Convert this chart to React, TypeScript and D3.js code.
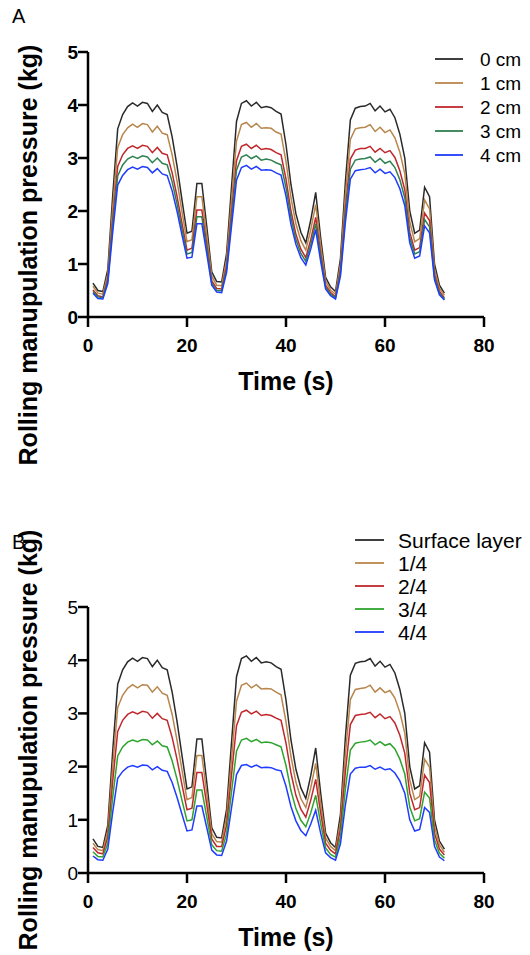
import React from "react";
import * as d3 from "d3";

// time in seconds, one reading per second
const time = d3.range(1, 73);

const yTicks = [0, 1, 2, 3, 4, 5];
const xTicks = [0, 20, 40, 60, 80];

// Panel A: depth below surface
const depthLabels = ["0 cm", "1 cm", "2 cm", "3 cm", "4 cm"];
// Panel B: layer
const layerLabels = ["Surface layer", "1/4", "2/4", "3/4", "4/4"];

const cm0 = [
  0.64, 0.5, 0.48, 0.9, 2.3, 3.55, 3.82, 3.97, 4.04, 3.98, 4.05, 4.03, 3.88, 4.0, 3.86, 3.82, 3.4, 2.84,
  2.2, 1.58, 1.62, 2.52, 2.52, 1.7, 0.85, 0.67, 0.66, 1.2, 2.46, 3.69, 4.03, 4.08, 3.98, 4.05, 3.95, 3.97,
  3.95, 3.88, 3.83, 3.25, 2.5, 1.95, 1.6, 1.4, 1.83, 2.35, 1.5, 0.75, 0.57, 0.48, 1.1, 2.55, 3.72, 3.94,
  3.97, 3.98, 4.03, 3.89, 3.98, 3.87, 3.92, 3.76, 3.45, 3.0, 2.0, 1.58, 1.64, 2.45, 2.27, 1.0, 0.6, 0.45,
];
const cm1 = [
  0.58, 0.45, 0.43, 0.81, 2.07, 3.2, 3.44, 3.57, 3.64, 3.58, 3.65, 3.63, 3.49, 3.6, 3.47, 3.44, 3.06, 2.56,
  1.98, 1.42, 1.46, 2.27, 2.27, 1.53, 0.77, 0.6, 0.59, 1.08, 2.21, 3.32, 3.63, 3.67, 3.58, 3.65, 3.56, 3.57,
  3.56, 3.49, 3.45, 2.93, 2.25, 1.76, 1.44, 1.26, 1.65, 2.12, 1.35, 0.68, 0.51, 0.43, 0.99, 2.3, 3.35, 3.55,
  3.57, 3.58, 3.63, 3.5, 3.58, 3.48, 3.53, 3.38, 3.11, 2.7, 1.8, 1.42, 1.48, 2.21, 2.04, 0.9, 0.54, 0.41,
];
const cm2 = [
  0.51, 0.4, 0.38, 0.72, 1.84, 2.84, 3.06, 3.18, 3.23, 3.18, 3.24, 3.22, 3.1, 3.2, 3.09, 3.06, 2.72, 2.27,
  1.76, 1.26, 1.3, 2.02, 2.02, 1.36, 0.68, 0.54, 0.53, 0.96, 1.97, 2.95, 3.22, 3.26, 3.18, 3.24, 3.16, 3.18,
  3.16, 3.1, 3.06, 2.6, 2.0, 1.56, 1.28, 1.12, 1.46, 1.88, 1.2, 0.6, 0.46, 0.38, 0.88, 2.04, 2.98, 3.15,
  3.18, 3.18, 3.22, 3.11, 3.18, 3.1, 3.14, 3.01, 2.76, 2.4, 1.6, 1.26, 1.31, 1.96, 1.82, 0.8, 0.48, 0.36,
];
const cm3 = [
  0.48, 0.38, 0.36, 0.68, 1.73, 2.66, 2.87, 2.98, 3.03, 2.99, 3.04, 3.02, 2.91, 3.0, 2.9, 2.87, 2.55, 2.13,
  1.65, 1.19, 1.22, 1.89, 1.89, 1.28, 0.64, 0.5, 0.5, 0.9, 1.85, 2.77, 3.02, 3.06, 2.99, 3.04, 2.96, 2.98,
  2.96, 2.91, 2.87, 2.44, 1.88, 1.46, 1.2, 1.05, 1.37, 1.76, 1.13, 0.56, 0.43, 0.36, 0.83, 1.91, 2.79, 2.96,
  2.98, 2.99, 3.02, 2.92, 2.99, 2.9, 2.94, 2.82, 2.59, 2.25, 1.5, 1.19, 1.23, 1.84, 1.7, 0.75, 0.45, 0.34,
];
const cm4 = [
  0.45, 0.35, 0.34, 0.63, 1.61, 2.49, 2.67, 2.78, 2.83, 2.79, 2.84, 2.82, 2.72, 2.8, 2.7, 2.67, 2.38, 1.99,
  1.54, 1.11, 1.13, 1.76, 1.76, 1.19, 0.6, 0.47, 0.46, 0.84, 1.72, 2.58, 2.82, 2.86, 2.79, 2.84, 2.77, 2.78,
  2.77, 2.72, 2.68, 2.28, 1.75, 1.37, 1.12, 0.98, 1.28, 1.65, 1.05, 0.53, 0.4, 0.34, 0.77, 1.79, 2.6, 2.76,
  2.78, 2.79, 2.82, 2.72, 2.79, 2.71, 2.74, 2.63, 2.42, 2.1, 1.4, 1.11, 1.15, 1.72, 1.59, 0.7, 0.42, 0.32,
];

// surface layer is the same recording as 0 cm
const surface = cm0;
const layer1 = [
  0.56, 0.44, 0.42, 0.79, 2.01, 3.11, 3.34, 3.47, 3.54, 3.48, 3.54, 3.53, 3.4, 3.5, 3.38, 3.34, 2.98, 2.49,
  1.93, 1.38, 1.42, 2.21, 2.21, 1.49, 0.74, 0.59, 0.58, 1.05, 2.15, 3.23, 3.53, 3.57, 3.48, 3.54, 3.46, 3.47,
  3.46, 3.4, 3.35, 2.84, 2.19, 1.71, 1.4, 1.23, 1.6, 2.06, 1.31, 0.66, 0.5, 0.42, 0.96, 2.23, 3.26, 3.45,
  3.47, 3.48, 3.53, 3.4, 3.48, 3.39, 3.43, 3.29, 3.02, 2.63, 1.75, 1.38, 1.44, 2.14, 1.99, 0.88, 0.53, 0.39,
];
const layer2 = [
  0.48, 0.38, 0.36, 0.68, 1.73, 2.66, 2.87, 2.98, 3.03, 2.99, 3.04, 3.02, 2.91, 3.0, 2.9, 2.87, 2.55, 2.13,
  1.65, 1.19, 1.22, 1.89, 1.89, 1.28, 0.64, 0.5, 0.5, 0.9, 1.85, 2.77, 3.02, 3.06, 2.99, 3.04, 2.96, 2.98,
  2.96, 2.91, 2.87, 2.44, 1.88, 1.46, 1.2, 1.05, 1.37, 1.76, 1.13, 0.56, 0.43, 0.36, 0.83, 1.91, 2.79, 2.96,
  2.98, 2.99, 3.02, 2.92, 2.99, 2.9, 2.94, 2.82, 2.59, 2.25, 1.5, 1.19, 1.23, 1.84, 1.7, 0.75, 0.45, 0.34,
];
const layer3 = [
  0.4, 0.31, 0.3, 0.56, 1.43, 2.2, 2.37, 2.46, 2.5, 2.47, 2.51, 2.5, 2.41, 2.48, 2.39, 2.37, 2.11, 1.76,
  1.36, 0.98, 1.0, 1.56, 1.56, 1.05, 0.53, 0.42, 0.41, 0.74, 1.53, 2.29, 2.5, 2.53, 2.47, 2.51, 2.45, 2.46,
  2.45, 2.41, 2.37, 2.02, 1.55, 1.21, 0.99, 0.87, 1.13, 1.46, 0.93, 0.47, 0.35, 0.3, 0.68, 1.58, 2.31, 2.44,
  2.46, 2.47, 2.5, 2.41, 2.47, 2.4, 2.43, 2.33, 2.14, 1.86, 1.24, 0.98, 1.02, 1.52, 1.41, 0.62, 0.37, 0.28,
];
const layer4 = [
  0.32, 0.25, 0.24, 0.45, 1.15, 1.78, 1.91, 1.99, 2.02, 1.99, 2.03, 2.02, 1.94, 2.0, 1.93, 1.91, 1.7, 1.42,
  1.1, 0.79, 0.81, 1.26, 1.26, 0.85, 0.43, 0.34, 0.33, 0.6, 1.23, 1.85, 2.02, 2.04, 1.99, 2.03, 1.98, 1.99,
  1.98, 1.94, 1.92, 1.63, 1.25, 0.98, 0.8, 0.7, 0.92, 1.18, 0.75, 0.38, 0.29, 0.24, 0.55, 1.28, 1.86, 1.97,
  1.99, 1.99, 2.02, 1.95, 1.99, 1.94, 1.96, 1.88, 1.73, 1.5, 1.0, 0.79, 0.82, 1.23, 1.14, 0.5, 0.3, 0.23,
];

const colorsA = ["#2a2a2a", "#b8864c", "#c0272d", "#2e8150", "#1f3cff"];
const colorsB = ["#2a2a2a", "#b8864c", "#c0272d", "#2ea32e", "#1f3cff"];

const FONT = "'Liberation Sans', Arial, Helvetica, sans-serif";

type Series = { name: string; color: string; values: number[] };

type PanelProps = {
  letter: string;
  letterY: number;
  top: number;
  bottom: number;
  series: Series[];
  yTickBold: boolean;
  labelCenter: number;
  legend: { x1: number; x2: number; tx: number; y0: number; dy: number; size: number };
};

const Panel = ({ letter, letterY, top, bottom, series, yTickBold, labelCenter, legend }: PanelProps) => {
  const x = d3.scaleLinear().domain([0, 80]).range([88, 484]);
  const y = d3.scaleLinear().domain([0, 5]).range([bottom, top]);

  const line = d3
    .line<number>()
    .x((_, i) => x(time[i]))
    .y((d) => y(d));

  return (
    <g>
      <text x={12} y={letterY} fontSize={20} fontFamily={FONT}>
        {letter}
      </text>

      {/* series lines */}
      {series.map((s) => (
        <path key={s.name} d={line(s.values) || ""} fill="none" stroke={s.color} strokeWidth={1.5} />
      ))}

      {/* y axis */}
      <line x1={x(0)} x2={x(0)} y1={y(0)} y2={y(5)} stroke="#000" strokeWidth={2.5} />
      {yTicks.map((t) => (
        <g key={t}>
          <line x1={x(0) - 10} x2={x(0)} y1={y(t)} y2={y(t)} stroke="#000" strokeWidth={2.5} />
          <text
            x={x(0) - 10}
            y={y(t)}
            dy="0.36em"
            textAnchor="end"
            fontSize={19}
            fontWeight={yTickBold ? "bold" : "normal"}
            fontFamily={FONT}
          >
            {t}
          </text>
        </g>
      ))}

      {/* x axis */}
      <line x1={x(0)} x2={x(80)} y1={y(0)} y2={y(0)} stroke="#000" strokeWidth={2.5} />
      {xTicks.map((t) => (
        <g key={t}>
          <line x1={x(t)} x2={x(t)} y1={y(0)} y2={y(0) + 10} stroke="#000" strokeWidth={2.5} />
          <text x={x(t)} y={y(0) + 35} textAnchor="middle" fontSize={19} fontWeight="bold" fontFamily={FONT}>
            {t}
          </text>
        </g>
      ))}

      <text x={x(40)} y={y(0) + 73} textAnchor="middle" fontSize={25} fontWeight="bold" fontFamily={FONT}>
        Time (s)
      </text>

      <text
        transform={`translate(37,${labelCenter}) rotate(-90)`}
        textAnchor="middle"
        fontSize={25}
        fontWeight="bold"
        fontFamily={FONT}
      >
        Rolling manupulation pressure (kg)
      </text>

      {/* legend */}
      {series.map((s, i) => (
        <g key={s.name}>
          <line
            x1={legend.x1}
            x2={legend.x2}
            y1={legend.y0 + i * legend.dy}
            y2={legend.y0 + i * legend.dy}
            stroke={s.color}
            strokeWidth={1.8}
          />
          <text
            x={legend.tx}
            y={legend.y0 + i * legend.dy}
            dy="0.36em"
            fontSize={legend.size}
            fontFamily={FONT}
          >
            {s.name}
          </text>
        </g>
      ))}
    </g>
  );
};

export default function App() {
  const seriesA: Series[] = [cm0, cm1, cm2, cm3, cm4].map((v, i) => ({
    name: depthLabels[i],
    color: colorsA[i],
    values: v,
  }));
  const seriesB: Series[] = [surface, layer1, layer2, layer3, layer4].map((v, i) => ({
    name: layerLabels[i],
    color: colorsB[i],
    values: v,
  }));

  return (
    <svg
      width={530}
      height={955}
      style={{ position: "absolute", left: 0, top: 0, background: "#fff" }}
    >
      <Panel
        letter="A"
        letterY={23}
        top={52}
        bottom={317}
        series={seriesA}
        yTickBold={true}
        labelCenter={255}
        legend={{ x1: 435, x2: 463, tx: 480, y0: 59, dy: 24, size: 19 }}
      />
      <Panel
        letter="B"
        letterY={549}
        top={607}
        bottom={873}
        series={seriesB}
        yTickBold={false}
        labelCenter={740}
        legend={{ x1: 355, x2: 384, tx: 398, y0: 540, dy: 23, size: 21 }}
      />
    </svg>
  );
}
